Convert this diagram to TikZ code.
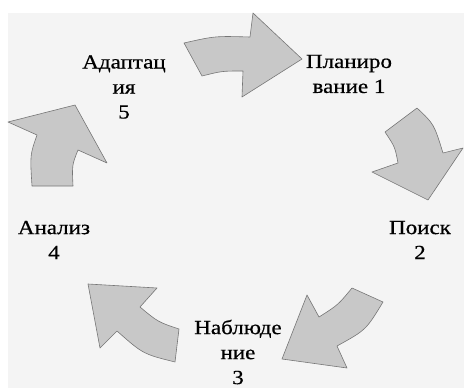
\documentclass[tikz,border=0pt]{standalone}
\usepackage{fontspec}
\setmainfont{Liberation Serif}
\newfontfamily\stagefont{Liberation Serif}[FakeStretch=1.15,FakeBold=0.6]
\definecolor{bgpaper}{RGB}{244,244,244}
\definecolor{arrowfill}{RGB}{200,200,200}
\definecolor{arrowline}{RGB}{118,118,118}

\begin{document}
\begin{tikzpicture}[x=1pt,y=-1pt,
  bigarrow/.style={fill=arrowfill,draw=arrowline,line width=0.6pt,line join=round},
  stage/.style={align=center,inner sep=0pt,font=\stagefont\fontsize{20}{25}\selectfont}]
  \useasboundingbox (0,0) rectangle (464,388);
  \fill[bgpaper] (8,13) rectangle (464,388);
  % curved arrows round the cycle
  \draw[bigarrow] (184,43) .. controls (215,36) .. (250,37) -- (253,13) -- (302,59)
    -- (242,97) -- (243,71) .. controls (222,71) .. (202,76) -- cycle;
  \draw[bigarrow] (417,108) .. controls (434,124) .. (443,153) -- (463,148) -- (428,200)
    -- (372,172) -- (398,163) .. controls (395,147) .. (385,132) -- cycle;
  \draw[bigarrow] (352,288) -- (383,302) .. controls (366,330) .. (337,346) -- (347,368)
    -- (282,359) -- (307,295) -- (319,317) .. controls (338,305) .. (352,288) -- cycle;
  \draw[bigarrow] (179,329) -- (175,362) .. controls (143,354) .. (117,331) -- (100,348)
    -- (88,284) -- (157,288) -- (140,307) .. controls (158,322) .. (179,329) -- cycle;
  \draw[bigarrow] (32,186) -- (73,186) .. controls (72,165) .. (78,150) -- (107,163)
    -- (75,105) -- (8,122) -- (37,135) .. controls (30,155) .. (32,186) -- cycle;
  % stage names
  \node[stage] (plan) at (349,74) {Планиро\\вание 1};
  \node[stage] (search) at (420,240) {Поиск\\2};
  \node[stage] (watch) at (238,352) {Наблюде\\ние\\3};
  \node[stage] (analysis) at (54,240) {Анализ\\4};
  \node[stage] (adapt) at (124,87) {Адаптац\\ия\\5};
\end{tikzpicture}
\end{document}
